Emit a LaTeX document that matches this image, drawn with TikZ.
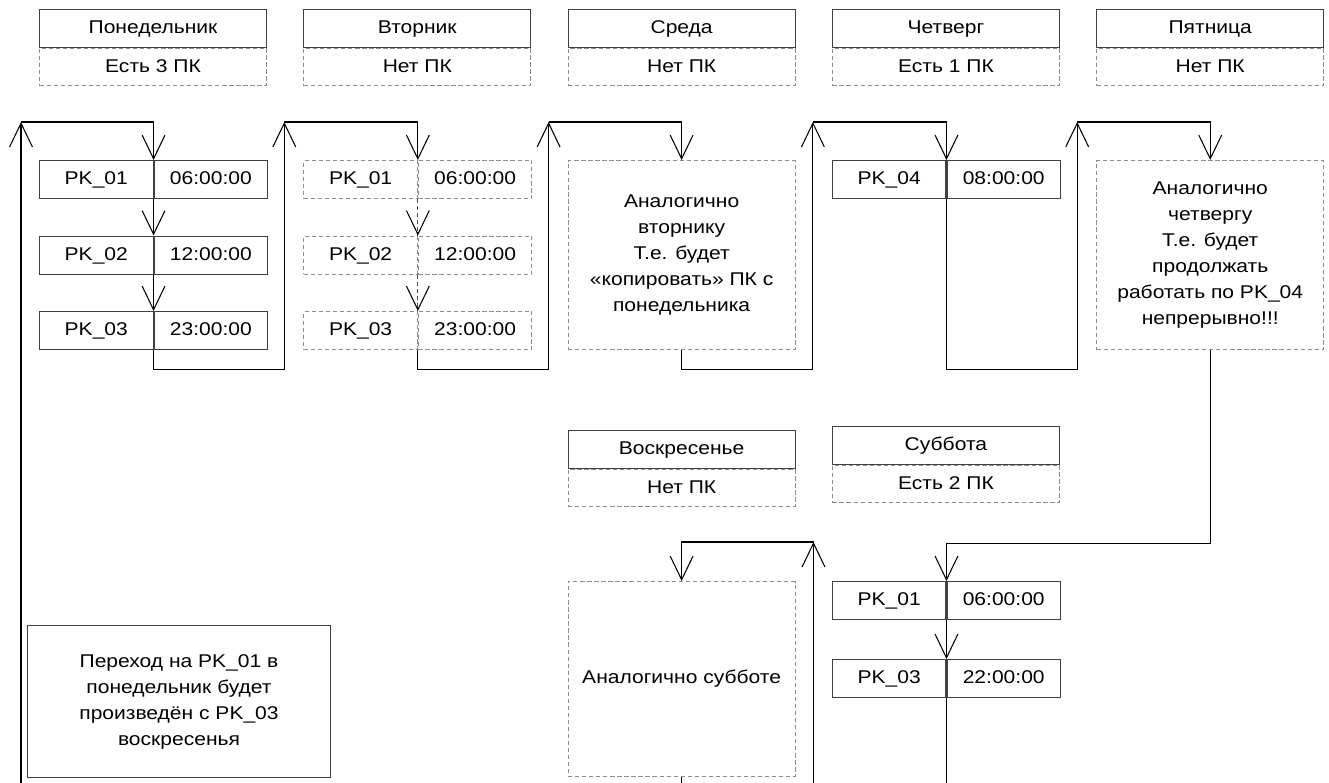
\documentclass[tikz,border=0pt]{standalone}
\usepackage{fontspec}
\setmainfont{Liberation Sans}[FakeStretch=1.14]
\usetikzlibrary{arrows.meta}
\begin{document}
\begin{tikzpicture}[x=0.2mm,y=-0.2mm,
  every node/.style={font=\fontsize{10.5}{14.8}\selectfont, inner sep=0pt, align=center},
  solidbox/.style={draw=black!75, line width=0.6pt},
  dashbox/.style={draw=black!45, line width=0.6pt, dash pattern=on 2.4pt off 1.6pt},
  hdr/.style={minimum width=45.4mm, minimum height=7.5mm, text height=7.6pt, text depth=1.6pt},
  cell/.style={minimum width=22.7mm, minimum height=7.6mm, text height=7.6pt, text depth=1.6pt},
  conn/.style={draw=black, line width=0.6pt},
  arr/.style={conn, -{Straight Barb[length=13.5pt, width=13pt, line width=0.6pt]}},
  dline/.style={draw=black!70, line width=0.6pt, dash pattern=on 2.4pt off 1.6pt}
]
\useasboundingbox (0,0) rectangle (1329,783);
\coordinate (bot) at (0,783);

% ---------- headers ----------
\node[hdr,solidbox,anchor=north west] (monH) at (39,9) {Понедельник};
\node[hdr,dashbox,anchor=north] (monS) at (monH.south) {Есть 3 ПК};
\node[hdr,solidbox,anchor=north west] (tueH) at (303.3,9) {Вторник};
\node[hdr,dashbox,anchor=north] (tueS) at (tueH.south) {Нет ПК};
\node[hdr,solidbox,anchor=north west] (wedH) at (567.6,9) {Среда};
\node[hdr,dashbox,anchor=north] (wedS) at (wedH.south) {Нет ПК};
\node[hdr,solidbox,anchor=north west] (thuH) at (831.9,9) {Четверг};
\node[hdr,dashbox,anchor=north] (thuS) at (thuH.south) {Есть 1 ПК};
\node[hdr,solidbox,anchor=north west] (friH) at (1096.2,9) {Пятница};
\node[hdr,dashbox,anchor=north] (friS) at (friH.south) {Нет ПК};
\node[hdr,solidbox,anchor=north west] (sunH) at (567.6,430) {Воскресенье};
\node[hdr,dashbox,anchor=north] (sunS) at (sunH.south) {Нет ПК};
\node[hdr,solidbox,anchor=north west] (satH) at (831.9,426) {Суббота};
\node[hdr,dashbox,anchor=north] (satS) at (satH.south) {Есть 2 ПК};

% ---------- Monday ----------
\node[cell,solidbox,anchor=north west] (m1a) at (39,160) {PK\_01};
\node[cell,solidbox,anchor=north west] (m1b) at (m1a.north east) {06:00:00};
\node[cell,solidbox,anchor=north west] (m2a) at (39,235.5) {PK\_02};
\node[cell,solidbox,anchor=north west] (m2b) at (m2a.north east) {12:00:00};
\node[cell,solidbox,anchor=north west] (m3a) at (39,311) {PK\_03};
\node[cell,solidbox,anchor=north west] (m3b) at (m3a.north east) {23:00:00};

% ---------- Tuesday ----------
\node[cell,dashbox,anchor=north west] (t1a) at (303.3,160) {PK\_01};
\node[cell,dashbox,anchor=north west] (t1b) at (t1a.north east) {06:00:00};
\node[cell,dashbox,anchor=north west] (t2a) at (303.3,235.5) {PK\_02};
\node[cell,dashbox,anchor=north west] (t2b) at (t2a.north east) {12:00:00};
\node[cell,dashbox,anchor=north west] (t3a) at (303.3,311) {PK\_03};
\node[cell,dashbox,anchor=north west] (t3b) at (t3a.north east) {23:00:00};

% ---------- Wednesday ----------
\node[dashbox,minimum width=45.4mm,minimum height=37.8mm,anchor=north west] (wed) at (567.6,160)
  {Аналогично\\вторнику\\Т.е. будет\\«копировать» ПК с\\понедельника};

% ---------- Thursday ----------
\node[cell,solidbox,anchor=north west] (h1a) at (831.9,160) {PK\_04};
\node[cell,solidbox,anchor=north west] (h1b) at (h1a.north east) {08:00:00};

% ---------- Friday ----------
\node[dashbox,minimum width=45.4mm,minimum height=37.8mm,anchor=north west] (fri) at (1096.2,160)
  {Аналогично\\четвергу\\Т.е. будет\\продолжать\\работать по PK\_04\\непрерывно!!!};

% ---------- Saturday ----------
\node[cell,solidbox,anchor=north west] (s1a) at (831.9,581) {PK\_01};
\node[cell,solidbox,anchor=north west] (s1b) at (s1a.north east) {06:00:00};
\node[cell,solidbox,anchor=north west] (s2a) at (831.9,659) {PK\_03};
\node[cell,solidbox,anchor=north west] (s2b) at (s2a.north east) {22:00:00};

% ---------- Sunday ----------
\node[dashbox,minimum width=45.4mm,minimum height=39mm,anchor=north west] (sun) at (567.6,581)
  {Аналогично субботе};

% ---------- note ----------
\node[solidbox,minimum width=60.6mm,minimum height=30.4mm,anchor=north west] (note) at (27,625)
  {Переход на PK\_01 в\\понедельник будет\\произведён с PK\_03\\воскресенья};

% ---------- connectors ----------
\coordinate (c0) at (21,122);
\coordinate (c1) at (284.3,122);
\coordinate (c2) at (548.6,122);
\coordinate (c3) at (812.9,122);
\coordinate (c4) at (1077.2,122);
\coordinate (c6) at (813.5,542);

\draw[arr] (c0 |- bot) -- (c0);
\draw[arr] (c0) -| (m1a.north east);
\draw[arr] (m1a.south east) -- (m2a.north east);
\draw[arr] (m2a.south east) -- (m3a.north east);
\draw[arr] (m3a.south east) -- ++(0,19) -| (c1);

\draw[arr] (c1) -| (t1a.north east);
\draw[dline] (t1a.south east) -- (t2a.north east);
\draw[arr] (t2a.north east) ++(0,-4) -- (t2a.north east);
\draw[dline] (t2a.south east) -- (t3a.north east);
\draw[arr] (t3a.north east) ++(0,-4) -- (t3a.north east);
\draw[arr] (t3a.south east) -- ++(0,19) -| (c2);

\draw[arr] (c2) -| (wed.north);
\draw[arr] (wed.south) -- ++(0,19) -| (c3);

\draw[arr] (c3) -| (h1a.north east);
\draw[arr] (h1a.south east) -- ++(0,170) -| (c4);

\draw[arr] (c4) -| (fri.north);
\draw[arr] (fri.south) -- ++(0,193) -| (s1a.north east);

\draw[arr] (s1a.south east) -- (s2a.north east);
\draw[conn] (s2a.south east) -- (s2a.south east |- bot);

\draw[arr] (c6 |- bot) -- (c6);
\draw[arr] (c6) -| (sun.north);
\draw[conn] (sun.south) -- (sun.south |- bot);
\end{tikzpicture}
\end{document}
